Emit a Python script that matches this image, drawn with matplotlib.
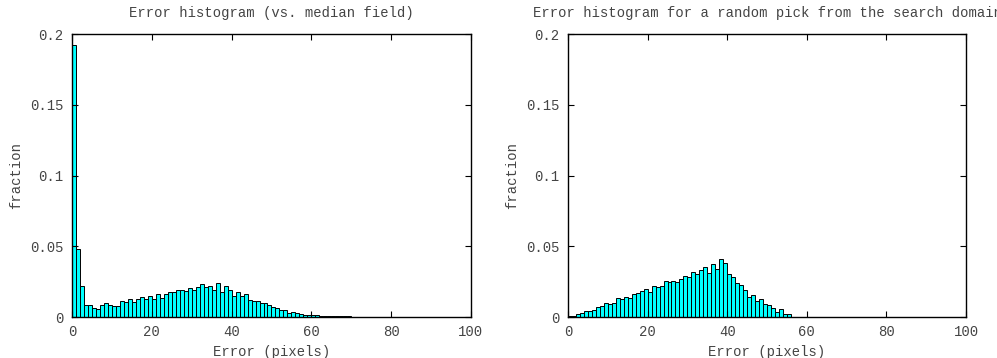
import matplotlib
matplotlib.use("Agg")
import matplotlib.pyplot as plt
import numpy as np

plt.rcParams['font.family'] = ['Liberation Mono', 'DejaVu Sans Mono']

titles = ["Error histogram (vs. median field)",
          "Error histogram for a random pick from the search domain"]
xlabel = "Error (pixels)"
ylabel = "fraction"
xticks = [0, 20, 40, 60, 80, 100]
yticks = [0, 0.05, 0.1, 0.15, 0.2]
ytick_labels = ["0", "0.05", "0.1", "0.15", "0.2"]

bins = list(range(100))

median_vals = [
    0.192, 0.0484, 0.0217, 0.0088, 0.0087, 0.0064, 0.0060, 0.0083, 0.0097, 0.0085,
    0.0080, 0.0075, 0.0115, 0.0106, 0.0130, 0.0104, 0.0130, 0.0144, 0.0130, 0.0150,
    0.0130, 0.0165, 0.0134, 0.0163, 0.0177, 0.0180, 0.0190, 0.0190, 0.0185, 0.0205,
    0.0194, 0.0210, 0.0236, 0.0210, 0.0220, 0.0190, 0.0243, 0.0180, 0.0220, 0.0190,
    0.0146, 0.0177, 0.0148, 0.0160, 0.0123, 0.0110, 0.0110, 0.0098, 0.0098, 0.0082,
    0.0068, 0.0061, 0.0052, 0.0050, 0.0030, 0.0033, 0.0030, 0.0024, 0.0017, 0.0016,
    0.0012, 0.0011, 0.0010, 0.0009, 0.0008, 0.0007, 0.0006, 0.0005, 0.0004, 0.0004,
    0.0003, 0.0003, 0.0002, 0.0002, 0.0002, 0.0001, 0.0001, 0.0001, 0.0001, 0.0001,
    0.0001, 0.0001, 0.0001, 0.0001, 0.0001, 0.0001, 0.0001, 0.0001, 0.0001, 0.0001,
    0.0001, 0.0001, 0.0001, 0.0001, 0.0001, 0.0001, 0.0001, 0.0001, 0.0001, 0.0001,
]

random_vals = [
    0.0005, 0.0010, 0.0020, 0.0026, 0.0045, 0.0045, 0.0050, 0.0070, 0.0080, 0.0097,
    0.0090, 0.0097, 0.0132, 0.0125, 0.0144, 0.0132, 0.0160, 0.0167, 0.0182, 0.0196,
    0.0177, 0.0220, 0.0210, 0.0217, 0.0257, 0.0245, 0.0257, 0.0250, 0.0270, 0.0293,
    0.0280, 0.0320, 0.0307, 0.0335, 0.0355, 0.0310, 0.0375, 0.0340, 0.0410, 0.0385,
    0.0305, 0.0280, 0.0240, 0.0225, 0.0190, 0.0144, 0.0156, 0.0113, 0.0130, 0.0092,
    0.0087, 0.0064, 0.0038, 0.0057, 0.0020, 0.0020, 0.0, 0.0, 0.0, 0.0,
    0.0, 0.0, 0.0, 0.0, 0.0, 0.0, 0.0, 0.0, 0.0, 0.0,
    0.0, 0.0, 0.0, 0.0, 0.0, 0.0, 0.0, 0.0, 0.0, 0.0,
    0.0, 0.0, 0.0, 0.0, 0.0, 0.0, 0.0, 0.0, 0.0, 0.0,
    0.0, 0.0, 0.0, 0.0, 0.0, 0.0, 0.0, 0.0, 0.0, 0.0,
]

text_color = '#444444'
fig = plt.figure(figsize=(9.97, 3.58), dpi=100)
positions = [[0.0722, 0.1145, 0.4002, 0.7905], [0.5697, 0.1145, 0.3993, 0.7905]]

for pos, title, vals in zip(positions, titles, [median_vals, random_vals]):
    ax = fig.add_axes(pos)
    ax.bar(bins, vals, width=1.0, align='edge', color='#00ffff',
           edgecolor='black', linewidth=0.7)
    ax.set_xlim(0, 100)
    ax.set_ylim(0, 0.2)
    ax.set_xticks(xticks)
    ax.set_yticks(yticks)
    ax.set_yticklabels(ytick_labels)
    ax.tick_params(direction='in', top=True, right=True, length=4, width=0.8,
                   labelsize=10, labelcolor=text_color, pad=6)
    for s in ax.spines.values():
        s.set_linewidth(1.0)
        s.set_color('black')
    ax.set_title(title, fontsize=10, color=text_color, pad=12)
    ax.set_xlabel(xlabel, fontsize=10, color=text_color, labelpad=4)
    ax.set_ylabel(ylabel, fontsize=10, color=text_color)
    ax.yaxis.set_label_coords(-0.122, 0.5)

fig.savefig("out.png", dpi=100)
